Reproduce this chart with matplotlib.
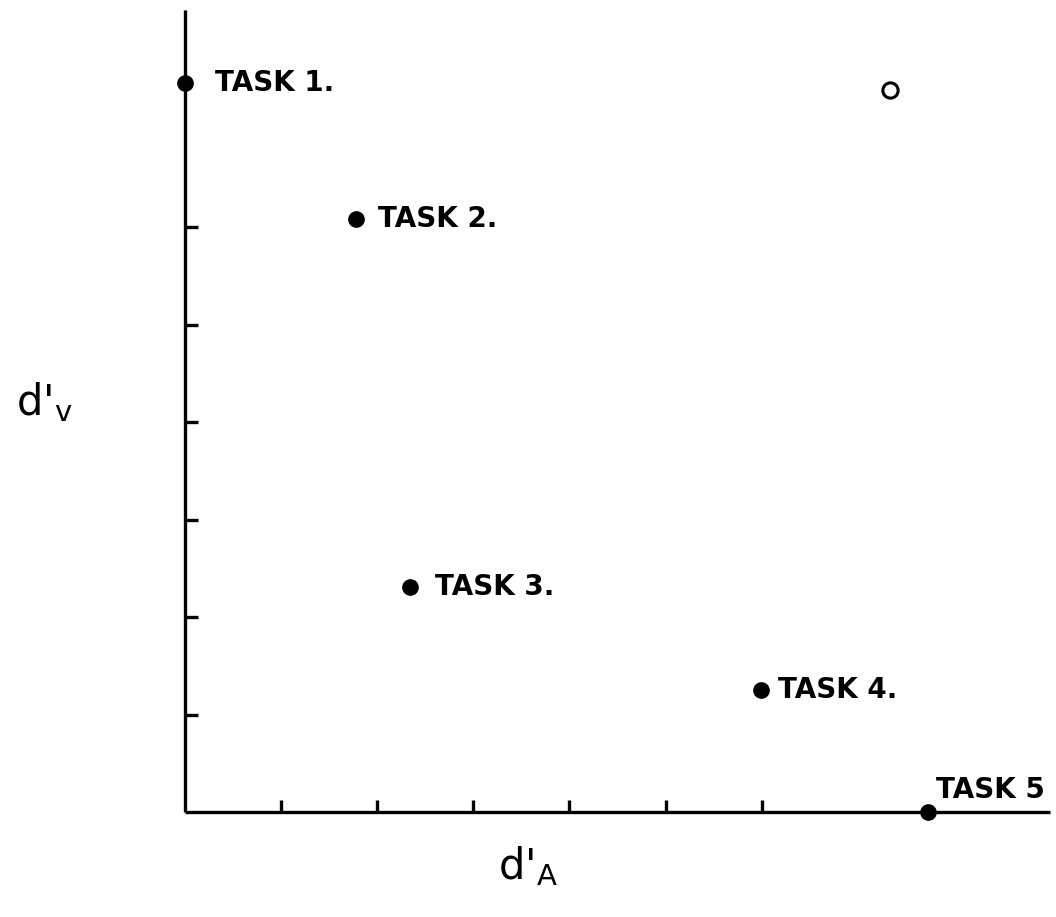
import matplotlib.pyplot as plt

# Task operating points (d'_A, d'_V), in tick units
tasks = ['TASK 1.', 'TASK 2.', 'TASK 3.', 'TASK 4.', 'TASK 5']
d_a = [0.0, 1.78, 2.34, 5.99, 7.73]
d_v = [7.48, 6.09, 2.31, 1.25, 0.0]

# open circle: joint (independent) performance point
joint_a = [7.34]
joint_v = [7.41]

x_ticks = [1, 2, 3, 4, 5, 6]
y_ticks = [1, 2, 3, 4, 5, 6]

# label offsets in pixels (dx, dy) and vertical alignment
label_offsets = [(30, 0, 'center'), (22, 0, 'center'), (25, 0, 'center'),
                 (17, 0, 'center'), (8, 8, 'bottom')]

fig = plt.figure(figsize=(10.56, 9.17), dpi=100)
ax = fig.add_axes([185 / 1056, 105 / 917, 865 / 1056, 802 / 917])

ax.set_xlim(0, 9.0)
ax.set_ylim(0, 8.23)

for side in ['top', 'right']:
    ax.spines[side].set_visible(False)
for side in ['left', 'bottom']:
    ax.spines[side].set_linewidth(2.4)
    ax.spines[side].set_capstyle('butt')

ax.set_xticks(x_ticks)
ax.set_yticks(y_ticks)
ax.tick_params(direction='in', length=9, width=2.4, labelbottom=False, labelleft=False)

ax.plot(d_a, d_v, 'o', color='black', markersize=11, clip_on=False, zorder=5)
ax.plot(joint_a, joint_v, 'o', markerfacecolor='white', markeredgecolor='black',
        markeredgewidth=2.2, markersize=11, clip_on=False, zorder=5)

for name, x, y, (dx, dy, va) in zip(tasks, d_a, d_v, label_offsets):
    ax.annotate(name, (x, y), xytext=(dx * 0.72, dy * 0.72), textcoords='offset points',
                ha='left', va=va, fontsize=20, fontweight='bold', annotation_clip=False)

# axis labels
fig.text(16 / 1056, 1 - 402 / 917, r"d'$_{\mathregular{v}}$", fontsize=30, ha='left', va='center')
fig.text(498 / 1056, 1 - 866 / 917, r"d'$_{\mathregular{A}}$", fontsize=30, ha='left', va='center')

fig.savefig('out.png', dpi=100)
